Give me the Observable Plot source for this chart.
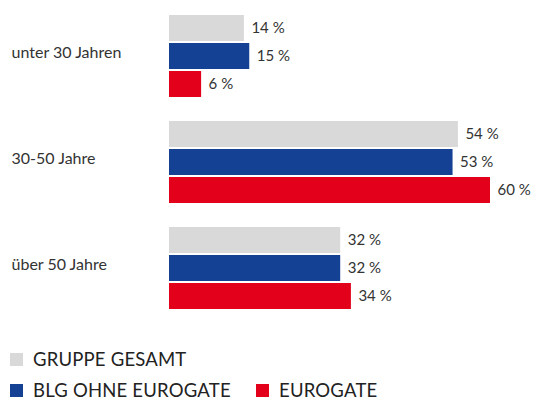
<!DOCTYPE html>
<html>
<head>
<meta charset="utf-8">
<script src="https://cdn.jsdelivr.net/npm/d3@7"></script>
<script src="https://cdn.jsdelivr.net/npm/@observablehq/plot@0.6"></script>
<style>
  body { margin: 0; background: #fff; font-family: Lato, "Open Sans", sans-serif; }
  #wrap { position: relative; width: 544px; height: 403px; overflow: hidden; }
  .leg { position: absolute; display: flex; align-items: center; font-size: 18.5px; line-height: 17px; height: 17px; color: #222; letter-spacing: 0.2px; }
  .sw { width: 13px; height: 13px; margin-right: 10px; }
</style>
</head>
<body>
<div id="wrap"><div id="chart"></div></div>
<script>
const categories = ["unter 30 Jahren", "30-50 Jahre", "über 50 Jahre"];
const series = ["GRUPPE GESAMT", "BLG OHNE EUROGATE", "EUROGATE"];
const colors = ["#d9d9d9", "#154194", "#e2001a"];
const gruppeGesamt = [14, 54, 32];
const blgOhneEurogate = [15, 53, 32];
const eurogate = [6, 60, 34];

const values = [gruppeGesamt, blgOhneEurogate, eurogate];
const data = [];
categories.forEach((c, i) => series.forEach((s, j) => data.push({cat: c, series: s, value: values[j][i]})));

const chart = Plot.plot({
  width: 544,
  height: 322,
  marginLeft: 169,
  marginRight: 0,
  marginTop: 14,
  marginBottom: 12,
  style: {fontFamily: "Lato, 'Open Sans', sans-serif"},
  x: {domain: [0, 70], range: [169, 169 + 70 * 5.35], axis: null},
  y: {domain: series, axis: null, paddingInner: 0.07, paddingOuter: 0},
  fy: {domain: categories, paddingInner: 0.22, paddingOuter: 0, label: null},
  color: {domain: series, range: colors},
  marks: [
    Plot.barX(data, {fy: "cat", y: "series", x: "value", fill: "series"}),
    Plot.text(data, {fy: "cat", y: "series", x: "value", text: d => `${d.value} %`, textAnchor: "start", dx: 7, fontSize: 15, fill: "#333"}),
    Plot.axisFy({anchor: "left", tickSize: 0, tickPadding: 0, textAnchor: "start", dx: -158, dy: -4, fontSize: 16, fill: "#333", label: null})
  ]
});
document.getElementById("chart").appendChild(chart);

const wrap = document.getElementById("wrap");
const legendPos = [[10, 351], [10, 382], [256, 382]];
series.forEach((s, j) => {
  const el = document.createElement("div");
  el.className = "leg";
  el.style.left = legendPos[j][0] + "px";
  el.style.top = legendPos[j][1] + "px";
  el.innerHTML = `<span class="sw" style="background:${colors[j]}"></span><span>${s}</span>`;
  wrap.appendChild(el);
});
</script>
</body>
</html>
